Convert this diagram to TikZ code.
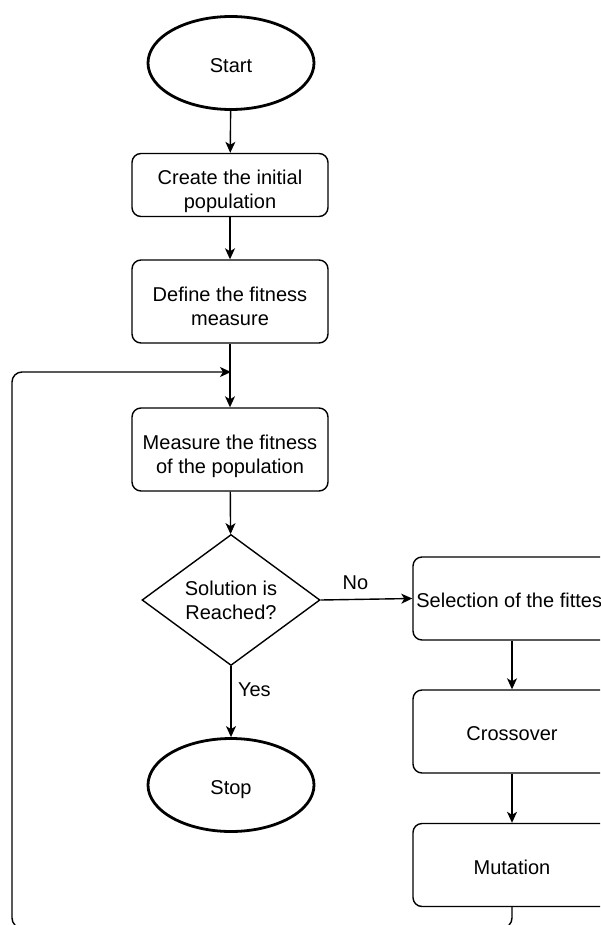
\documentclass[tikz,border=0pt]{standalone}
\usepackage{fontspec}
\setmainfont{Liberation Sans}
\usetikzlibrary{shapes.geometric,arrows.meta}
% struts that give box texts a fixed top and bottom
\newcommand\onetop{\rule{0pt}{23pt}}
\newcommand\twotop{\rule{0pt}{28pt}}
\newcommand\boxbottom{\rule[-4.5pt]{0pt}{0pt}}
\begin{document}
\begin{tikzpicture}[x=1pt,y=-1pt,
  every node/.style={font=\fontsize{20}{24}\selectfont, align=center},
  terminal/.style={draw, ellipse, line width=2.8pt, minimum width=166, minimum height=93, inner sep=0},
  proc/.style={draw, rectangle, rounded corners=9, line width=1.4pt, minimum width=196, minimum height=83, inner sep=0},
  decision/.style={draw, diamond, line width=1.4pt, minimum width=178, minimum height=130, inner sep=0},
  flow/.style={line width=1.4pt, -{Stealth[length=11pt,width=10pt,inset=3pt]}},
  edgelabel/.style={font=\fontsize{20}{24}\selectfont}]
\useasboundingbox (0,0) rectangle (600,925);
\clip (0,0) rectangle (600,925);

% main column
\node[terminal] (start) at (231,63) {\onetop Start\boxbottom};
\node[proc, minimum height=63] (create) at (230,185) {\twotop Create the initial\\population\boxbottom};
\node[proc] (define) at (230,301.5) {\twotop Define the fitness\\measure\boxbottom};
\node[proc] (measure) at (230,449.5) {\twotop Measure the fitness\\of the population\boxbottom};
\node[decision] (dec) at (231,600) {Solution is\\Reached?};
\node[terminal] (stop) at (231,785) {\onetop Stop\boxbottom};

% right column
\node[proc, minimum width=198] (sel) at (512,598.5) {\onetop Selection of the fittest\boxbottom};
\node[proc, minimum width=198] (cross) at (512,731.5) {\onetop Crossover\boxbottom};
\node[proc, minimum width=198] (mut) at (512,865) {\onetop Mutation\boxbottom};

% loop-back corners
\coordinate (join) at (231,372);
\coordinate (lb) at (12,928);
\coordinate (lt) at (12,372);

\draw[flow] (start) -- (create);
\draw[flow] (create) -- (define);
\draw[flow] (define) -- (measure);
\draw[flow] (measure) -- (dec);
\draw[flow] (dec.east) -- (sel.west) node[edgelabel, pos=0.38, above=6pt] {No};
\draw[flow] (dec.south) -- (stop.north) node[edgelabel, pos=0.33, right=3pt] {Yes};
\draw[flow] (sel) -- (cross);
\draw[flow] (cross) -- (mut);
\draw[flow, rounded corners=10] (mut.south) |- (lb) -- (lt) -- (join);
\end{tikzpicture}
\end{document}
